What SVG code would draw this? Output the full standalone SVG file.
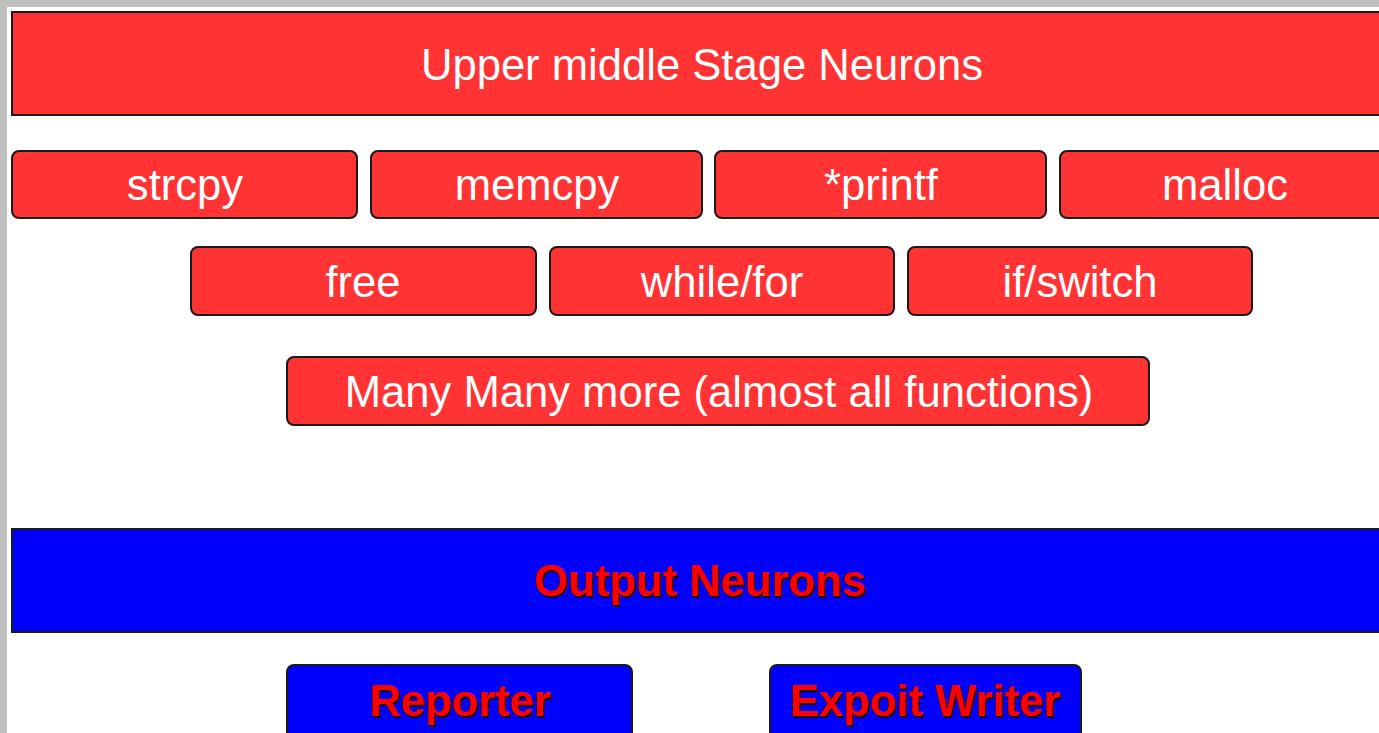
<svg xmlns="http://www.w3.org/2000/svg" width="1379" height="733" viewBox="0 0 1379 733">
<style>
.bg{fill:#c0c0c0}
.red{fill:#ff3333;stroke:#1a1a1a;stroke-width:2}
.blue{fill:#0000ff;stroke:#1a1a1a;stroke-width:2}
.wt{font-family:"Liberation Sans",Arial,sans-serif;font-size:43.6px;fill:#ffffff;text-anchor:middle}
.bt{font-family:"Liberation Sans",Arial,sans-serif;font-size:43.6px;font-weight:bold;fill:#ff0000;text-anchor:middle}
.sh{font-family:"Liberation Sans",Arial,sans-serif;font-size:43.6px;font-weight:bold;fill:#200000;text-anchor:middle}
</style>
<rect class="bg" x="0" y="0" width="1379" height="733"/>
<rect x="7" y="7" width="1372" height="726" fill="#ffffff"/>
<g id="upper-banner"><rect class="red" x="12" y="12" width="1400" height="103"/><text class="wt" x="702" y="80">Upper middle Stage Neurons</text></g>
<g id="strcpy"><rect class="red" x="12" y="151" width="345" height="67" rx="7"/><text class="wt" x="185" y="200">strcpy</text></g>
<g id="memcpy"><rect class="red" x="371" y="151" width="331" height="67" rx="7"/><text class="wt" x="537" y="200">memcpy</text></g>
<g id="printf"><rect class="red" x="715" y="151" width="331" height="67" rx="7"/><text class="wt" x="881" y="200">*printf</text></g>
<g id="malloc"><rect class="red" x="1060" y="151" width="340" height="67" rx="7"/><text class="wt" x="1225" y="200">malloc</text></g>
<g id="free"><rect class="red" x="191" y="247" width="345" height="68" rx="7"/><text class="wt" x="363" y="297">free</text></g>
<g id="whilefor"><rect class="red" x="550" y="247" width="344" height="68" rx="7"/><text class="wt" x="722" y="297">while/for</text></g>
<g id="ifswitch"><rect class="red" x="908" y="247" width="344" height="68" rx="7"/><text class="wt" x="1080" y="297">if/switch</text></g>
<g id="many"><rect class="red" x="287" y="357" width="862" height="68" rx="7"/><text class="wt" x="719" y="407">Many Many more (almost all functions)</text></g>
<g id="output-banner"><rect class="blue" x="12" y="529" width="1400" height="103"/><text class="sh" x="702" y="598">Output Neurons</text><text class="bt" x="700" y="596">Output Neurons</text></g>
<g id="reporter"><rect class="blue" x="287" y="665" width="345" height="90" rx="7"/><text class="sh" x="462" y="718">Reporter</text><text class="bt" x="460" y="716">Reporter</text></g>
<g id="expoit"><rect class="blue" x="770" y="665" width="311" height="90" rx="7"/><text class="sh" x="927" y="718">Expoit Writer</text><text class="bt" x="925" y="716">Expoit Writer</text></g>
<g id="connectors"></g>
</svg>
